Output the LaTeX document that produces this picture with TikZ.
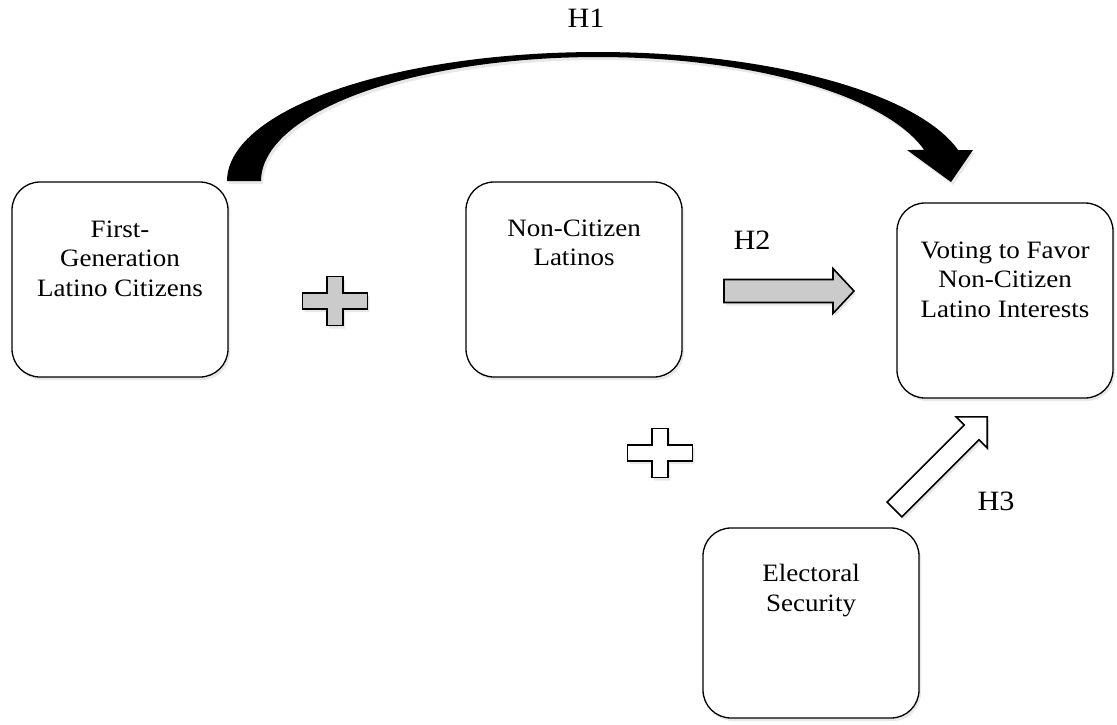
\documentclass[tikz,border=0pt]{standalone}
\usepackage{fontspec}
\setmainfont{Liberation Serif}[FakeStretch=1.08]
\usetikzlibrary{shadows}
\definecolor{arrowgray}{HTML}{CBCBCB}
\begin{document}
\begin{tikzpicture}[x=1pt,y=-1pt,
  softshadow/.style={drop shadow={opacity=0.18, shadow xshift=2pt, shadow yshift=-3pt}},
  concept/.style={draw=black, line width=1.3pt, rounded corners=28pt, fill=white,
    minimum width=216pt, minimum height=195pt, inner sep=0pt, softshadow},
  boxtext/.style={anchor=north, align=center, inner sep=0pt, font=\fontsize{25}{29.5}\selectfont},
  hlabel/.style={inner sep=0pt, font=\fontsize{28}{32}\selectfont},
  blockarrow/.style={draw=black, line width=1.6pt, line join=miter, softshadow},
  plusshape/.style={draw=black, line width=1.8pt, line join=miter, softshadow},
]
\useasboundingbox (0,0) rectangle (1117,725);

% boxes
\node[concept] (fgl) at (120,279.5) {};
\node[concept] (ncl) at (574,279.5) {};
\node[concept] (vote) at (1005,300.5) {};
\node[concept, minimum height=190pt] (elec) at (811,623) {};

\node[boxtext] (fgltext) at ([yshift=-39pt]fgl.north) {First-\\Generation\\Latino Citizens};
\node[boxtext] (ncltext) at ([yshift=-38pt]ncl.north) {Non-Citizen\\Latinos};
\node[boxtext] (votetext) at ([yshift=-39pt]vote.north) {Voting to Favor\\Non-Citizen\\Latino Interests};
\node[boxtext] (electext) at ([yshift=-37pt]elec.north) {Electoral\\Security};

% H1 curved arrow
\fill[black, softshadow]
  plot[domain=180:13.9, samples=80] ({598+371*cos(\x)},{181-129*sin(\x)})
  -- (973,150) -- (951,182) -- (907,150)
  -- plot[domain=14.48:180, samples=80] ({598+337*cos(\x)},{181-124*sin(\x)})
  -- cycle;

% H2 block arrow
\draw[blockarrow, fill=arrowgray]
  (724,279.5) -- (833,279.5) -- (833,268.5) -- (854,291) -- (833,313.5) -- (833,302.5) -- (724,302.5) -- cycle;

% H3 block arrow
\draw[blockarrow, fill=white]
  (887.1,502.1) -- (964.2,425.0) -- (956.0,416.8) -- (987.2,416.8) -- (987.2,448.0) -- (979.0,439.8) -- (901.9,516.9) -- cycle;

% plus signs
\draw[plusshape, fill=arrowgray, shift={(335,301)}]
  (-8,-24.5) -- (8,-24.5) -- (8,-8) -- (32.5,-8) -- (32.5,8) -- (8,8) -- (8,24.5)
  -- (-8,24.5) -- (-8,8) -- (-32.5,8) -- (-32.5,-8) -- (-8,-8) -- cycle;
\draw[plusshape, fill=white, shift={(660,453)}]
  (-8,-24.5) -- (8,-24.5) -- (8,-8) -- (32.5,-8) -- (32.5,8) -- (8,8) -- (8,24.5)
  -- (-8,24.5) -- (-8,8) -- (-32.5,8) -- (-32.5,-8) -- (-8,-8) -- cycle;

% labels
\node[hlabel] (h1) at (586,18) {H1};
\node[hlabel] (h2) at (752,240) {H2};
\node[hlabel] (h3) at (996,501) {H3};
\end{tikzpicture}
\end{document}
